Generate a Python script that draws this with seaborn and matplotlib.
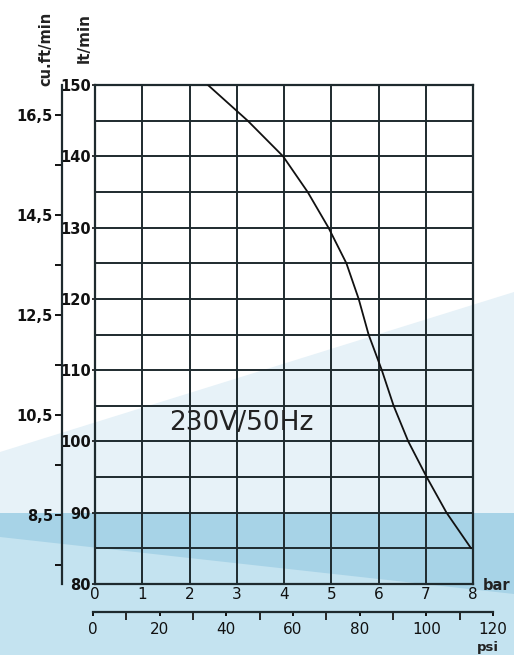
import matplotlib
matplotlib.use("Agg")
import matplotlib.pyplot as plt
from matplotlib.patches import Polygon
from matplotlib.ticker import MultipleLocator
import seaborn as sns

# curve: pressure (bar) vs free air delivery (lt/min)
pressure_bar = [2.39, 3.23, 3.98, 4.50, 4.94, 5.32, 5.58, 5.79, 6.07, 6.32, 6.63, 7.02, 7.44, 7.96]
flow_lt = [150, 145, 140, 135, 130, 125, 120, 115, 110, 105, 100, 95, 90, 85]

bar_ticks = [0, 1, 2, 3, 4, 5, 6, 7, 8]
lt_ticks = [80, 90, 100, 110, 120, 130, 140, 150]
cuft_ticks = [8.5, 10.5, 12.5, 14.5, 16.5]
cuft_labels = ["8,5", "10,5", "12,5", "14,5", "16,5"]
cuft_minor = [7.5, 9.5, 11.5, 13.5, 15.5]
psi_ticks = [0, 20, 40, 60, 80, 100, 120]
label_text = "230V/50Hz"

sns.set_style("ticks")
plt.rcParams['font.family'] = ['DejaVu Sans']

W, H = 514, 655
fig = plt.figure(figsize=(W / 100, H / 100), dpi=100)
fig.patch.set_facecolor("white")

# background swoosh (decoration)
bg = fig.add_axes([0, 0, 1, 1], zorder=-5)
bg.set_xlim(0, W)
bg.set_ylim(H, 0)
bg.axis("off")
bg.add_patch(Polygon([(0, 452), (W, 292), (W, 513), (0, 513)], color="#e7f2f8", lw=0))
bg.add_patch(Polygon([(0, 513), (W, 513), (W, H), (0, H)], color="#c4e3f0", lw=0))
bg.add_patch(Polygon([(0, 513), (W, 513), (W, 594), (0, 537)], color="#a7d3e7", lw=0))

def px(v):
    return v / 1.389  # pixels -> points

ink = "#1e2a2e"

# main axes
ax = fig.add_axes([95 / W, (H - 584) / H, 378 / W, 499 / H])
ax.patch.set_alpha(0)
sns.lineplot(x=pressure_bar, y=flow_lt, sort=False, color="#111111", lw=1.3, ax=ax, zorder=5)
ax.set_xlim(0, 8)
ax.set_ylim(80, 150)
ax.set_xticks(bar_ticks)
ax.set_yticks(lt_ticks)
ax.yaxis.set_minor_locator(MultipleLocator(5))
ax.xaxis.set_minor_locator(MultipleLocator(1))
ax.grid(True, which="both", color=ink, lw=1.4)
for s in ax.spines.values():
    s.set_color(ink)
    s.set_linewidth(1.6)
ax.tick_params(axis="x", which="both", length=0, pad=px(3), labelsize=11, colors="#111111")
ax.tick_params(axis="y", which="major", length=px(3), width=1.2, pad=px(1), labelsize=10.5,
               colors="#111111")
ax.tick_params(axis="y", which="minor", length=0)
for t in ax.get_yticklabels():
    t.set_fontweight("bold")
ax.set_xlabel("")
ax.set_ylabel("")
ax.text(3.1, 102.6, label_text, ha="center", va="center", fontsize=19, color="#222222")

# cu.ft/min axis, offset to the left
lo = 8.5 + (80 - 89.68) / 7.01
hi = 8.5 + (150 - 89.68) / 7.01
ax2 = ax.twinx()
ax2.set_ylim(lo, hi)
for k in ["right", "top", "bottom"]:
    ax2.spines[k].set_visible(False)
ax2.spines["left"].set_position(("outward", px(33)))
ax2.spines["left"].set_color(ink)
ax2.spines["left"].set_linewidth(1.6)
ax2.yaxis.set_ticks_position("left")
ax2.yaxis.set_label_position("left")
ax2.set_yticks(cuft_ticks)
ax2.set_yticklabels(cuft_labels)
ax2.set_yticks(cuft_minor, minor=True)
ax2.tick_params(axis="y", which="both", length=px(7), width=1.4, pad=px(2), labelsize=10.5,
                colors="#111111")
for t in ax2.get_yticklabels():
    t.set_fontweight("bold")
ax2.grid(False)

# psi scale below
axp = fig.add_axes([93 / W, (H - 612) / H, 400 / W, 0.0001])
axp.patch.set_alpha(0)
axp.set_xlim(0, 120)
axp.set_yticks([])
for k in ["left", "right", "top"]:
    axp.spines[k].set_visible(False)
axp.spines["bottom"].set_color(ink)
axp.spines["bottom"].set_linewidth(1.6)
axp.set_xticks(psi_ticks)
axp.xaxis.set_minor_locator(MultipleLocator(10))
axp.tick_params(axis="x", which="major", length=px(4), width=1.4, pad=px(6), labelsize=11,
                colors="#111111")
axp.tick_params(axis="x", which="minor", length=px(8), width=1.4)

# axis titles
fig.text(84 / W, 1 - 38 / H, "lt/min", rotation=90, ha="center", va="center",
         fontsize=11, fontweight="bold", color="#222222")
fig.text(46 / W, 1 - 49 / H, "cu.ft/min", rotation=90, ha="center", va="center",
         fontsize=10.5, fontweight="bold", color="#222222")
fig.text(497 / W, 1 - 586 / H, "bar", ha="center", va="center", fontsize=10.5,
         fontweight="bold", color="#222222")
fig.text(488 / W, 1 - 648 / H, "psi", ha="center", va="center", fontsize=9.5,
         fontweight="bold", color="#222222")

fig.savefig("out.png", dpi=100)
